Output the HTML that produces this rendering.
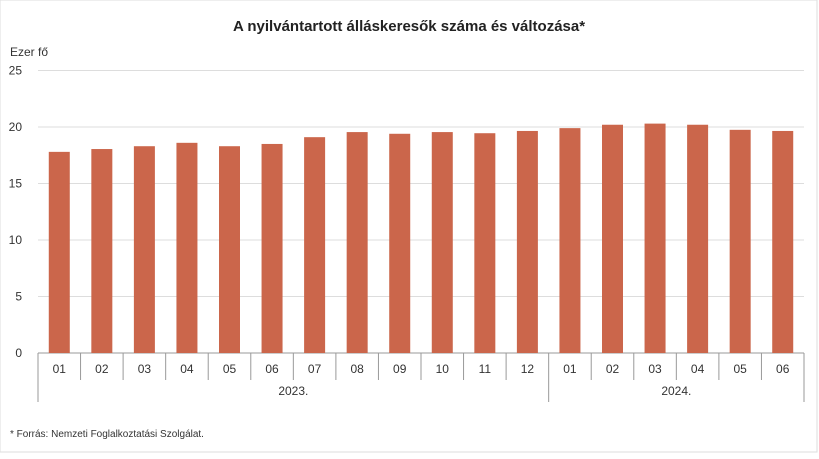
<!DOCTYPE html>
<html><head><meta charset="utf-8"><style>
body{margin:0;background:#fff;font-family:"Liberation Sans",sans-serif;}
svg text{font-family:"Liberation Sans",sans-serif;}
</style></head><body>
<svg id="c" width="819" height="454">
<rect x="0" y="0" width="817" height="452" fill="#fff" stroke="#ddd"/>
<text x="409" y="31" text-anchor="middle" font-size="15" font-weight="bold" fill="#222">A nyilvántartott álláskeresők száma és változása*</text>
<text x="10" y="56" font-size="12" fill="#333">Ezer fő</text>
<text x="10" y="437" font-size="10" fill="#333">* Forrás: Nemzeti Foglalkoztatási Szolgálat.</text>
<g id="g"></g>
</svg>
<script>
const months=["01","02","03","04","05","06","07","08","09","10","11","12","01","02","03","04","05","06"];
const values=[17.8,18.05,18.3,18.6,18.3,18.5,19.1,19.55,19.4,19.55,19.45,19.65,19.9,20.2,20.3,20.2,19.75,19.65];
const yTicks=[0,5,10,15,20,25];
const years=["2023.","2024."];
const yearSpans=[12,6];
const NS="http://www.w3.org/2000/svg";
const g=document.getElementById('g');
const x0=38,x1=804,y0=353,yTop=70.5,yMax=25;
const band=(x1-x0)/months.length;
const y=v=>y0-(v/yMax)*(y0-yTop);
const xc=i=>x0+band*(i+0.5);
function mk(t,a){const e=document.createElementNS(NS,t);for(const k in a)e.setAttribute(k,a[k]);g.appendChild(e);return e;}
yTicks.forEach(t=>{
 const l=mk('line',{x1:x0,x2:x1,y1:y(t),y2:y(t),stroke:t===0?'#999':'#ddd'});
 
 
 const tx=mk('text',{x:22,y:y(t)+4,'text-anchor':'end','font-size':12,fill:'#333'});tx.textContent=t;
 
 
});
values.forEach((v,i)=>{
 const bw=21;
 const r=mk('rect',{x:xc(i)-bw/2,y:y(v),width:bw,height:y0-y(v),fill:'#cb664b'});
 
 
 const tx=mk('text',{x:xc(i),y:373,'text-anchor':'middle','font-size':12,fill:'#333'});tx.textContent=months[i];
 
 
});
for(let i=0;i<=months.length;i++){
 const xx=x0+band*i;
 const l=mk('line',{x1:xx,x2:xx,y1:y0,y2:380,stroke:'#999'});
 
 
}
let s=0;
years.forEach((yr,k)=>{
 const a=x0+band*s,b=x0+band*(s+yearSpans[k]);
 const l=mk('line',{x1:a,x2:a,y1:380,y2:402,stroke:'#999'});
 
 
 const tx=mk('text',{x:(a+b)/2,y:395,'text-anchor':'middle','font-size':12,fill:'#333'});tx.textContent=yr;
 
 
 s+=yearSpans[k];
});
const le=mk('line',{x1:x1,x2:x1,y1:380,y2:402,stroke:'#999'});


</script>
</body></html>
